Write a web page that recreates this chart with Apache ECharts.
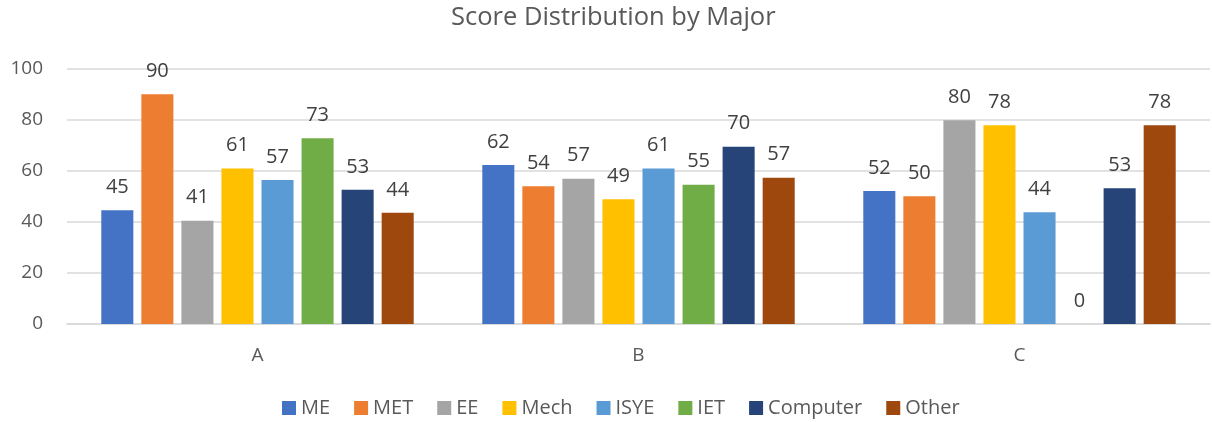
<!DOCTYPE html>
<html>
<head>
<meta charset="utf-8">
<script src="https://cdn.jsdelivr.net/npm/echarts@6/dist/echarts.min.js"></script>
<style>
  html, body { margin: 0; padding: 0; background: #fff; }
  #chart { width: 1212px; height: 422px; }
</style>
</head>
<body>
<div id="chart"></div>
<script>
const categories = ['A', 'B', 'C'];
const majors = ['ME', 'MET', 'EE', 'Mech', 'ISYE', 'IET', 'Computer', 'Other'];
const colors = ['#4472C4', '#ED7D31', '#A5A5A5', '#FFC000', '#5B9BD5', '#70AD47', '#264478', '#9E480E'];

// scores per major, in order A, B, C
const meScores = [44.6, 62.4, 52.2];
const metScores = [90.1, 54.0, 50.1];
const eeScores = [40.5, 57.0, 79.9];
const mechScores = [61.0, 48.9, 77.9];
const isyeScores = [56.5, 61.0, 43.8];
const ietScores = [72.8, 54.6, 0];
const computerScores = [52.6, 69.5, 53.2];
const otherScores = [43.6, 57.4, 77.9];

const yTicks = [0, 20, 40, 60, 80, 100];

const allScores = [meScores, metScores, eeScores, mechScores, isyeScores, ietScores, computerScores, otherScores];
const fontFamily = '"Open Sans", sans-serif';

const chart = echarts.init(document.getElementById('chart'));

const option = {
    animation: false,
    color: colors,
    textStyle: { fontFamily: fontFamily },
    title: {
        text: 'Score Distribution by Major',
        left: 446,
        top: 0,
        textStyle: { color: '#595959', fontSize: 25.5, fontWeight: 'normal', fontFamily: fontFamily }
    },
    legend: {
        top: 393,
        left: 277,
        itemWidth: 14,
        itemHeight: 14,
        itemGap: 24,
        icon: 'rect',
        textStyle: { color: '#595959', fontSize: 20, padding: [0, 0, 0, 0], fontFamily: fontFamily },
        data: majors
    },
    grid: { left: 67, right: 2, top: 69, bottom: 98 },
    xAxis: {
        type: 'category',
        data: categories,
        axisTick: { show: false },
        axisLine: { lineStyle: { color: '#D9D9D9', width: 1.5 } },
        axisLabel: { color: '#595959', fontSize: 19, margin: 22, fontFamily: fontFamily }
    },
    yAxis: {
        type: 'value',
        min: yTicks[0],
        max: yTicks[yTicks.length - 1],
        interval: 20,
        axisLine: { show: false },
        axisTick: { show: false },
        axisLabel: { color: '#595959', fontSize: 19, margin: 24, fontFamily: fontFamily },
        splitLine: { lineStyle: { color: '#D9D9D9', width: 1.5 } }
    },
    series: majors.map((name, i) => ({
        name: name,
        type: 'bar',
        data: allScores[i],
        barGap: '25%',
        barCategoryGap: '18%',
        label: {
            show: true,
            position: 'top',
            distance: 13,
            color: '#404040',
            fontSize: 20,
            fontFamily: fontFamily,
            formatter: p => Math.round(p.value)
        }
    }))
};

chart.setOption(option);
window.addEventListener('resize', () => chart.resize());
</script>
</body>
</html>
